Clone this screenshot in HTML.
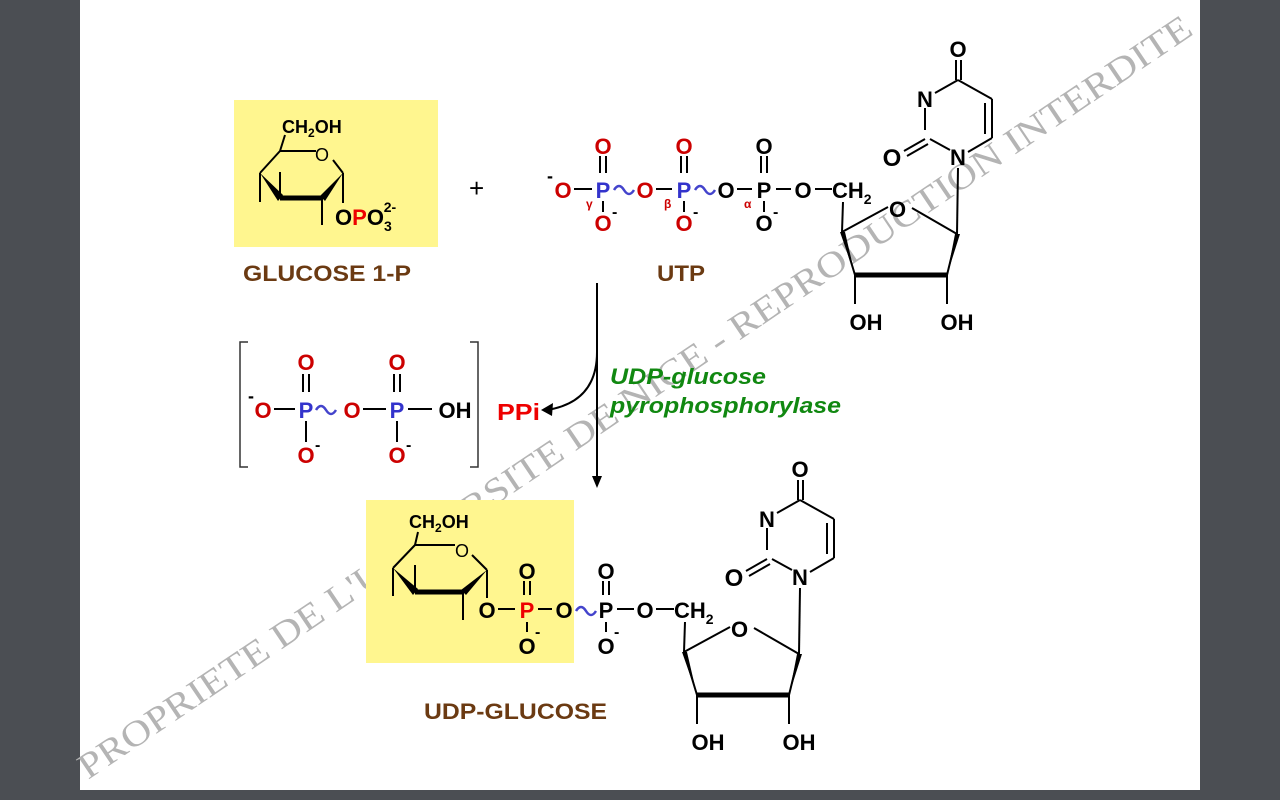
<!DOCTYPE html>
<html><head><meta charset="utf-8"><style>
html,body{margin:0;padding:0;background:#4b4e53;}
svg{display:block}
text{font-family:"Liberation Sans",Arial,sans-serif;font-weight:bold}
text.wm{font-family:"Liberation Serif",serif;font-weight:normal}
text.n{font-weight:normal}
</style></head><body>
<svg width="1280" height="800" viewBox="0 0 1280 800" xmlns="http://www.w3.org/2000/svg">
<rect x="0" y="0" width="1280" height="800" fill="#4b4e53"/>
<rect x="80" y="0" width="1120" height="790" fill="#fff"/>
<!-- watermark -->
<text class="wm" transform="translate(88,780) rotate(-34)" font-size="36" fill="#b4b4b4" textLength="1335" lengthAdjust="spacingAndGlyphs">PROPRIETE DE L'UNIVERSITE DE NICE - REPRODUCTION INTERDITE</text>

<rect x="234" y="100" width="204" height="147" fill="#fff68f"/>
<rect x="366" y="500" width="208" height="163" fill="#fff68f"/>

<!-- Glucose 1-P ring -->
<g stroke="#000" stroke-width="2" fill="none">
<line x1="285" y1="135" x2="280" y2="151"/>
<line x1="280" y1="151" x2="316" y2="151"/>
<line x1="333" y1="160" x2="343" y2="173"/>
<line x1="280" y1="151" x2="260" y2="173"/>
<line x1="260" y1="173" x2="260" y2="202"/>
<line x1="280" y1="198" x2="280" y2="172"/>
<line x1="322" y1="198" x2="322" y2="225"/>
<line x1="343" y1="173" x2="343" y2="203"/>
<line x1="280" y1="198" x2="322" y2="198" stroke-width="5"/>
</g>
<polygon points="260,173 283,195 278,201" fill="#000"/>
<polygon points="343,173 320,196 325,201" fill="#000"/>
<text x="282" y="133" font-size="18">CH<tspan font-size="12" dy="4">2</tspan><tspan dy="-4">OH</tspan></text>
<text x="315" y="161" font-size="18" class="n">O</text>
<text x="335" y="225" font-size="22">O<tspan fill="#e00">P</tspan>O<tspan font-size="14" dy="6">3</tspan><tspan font-size="14" dy="-19" dx="-8">2-</tspan></text>

<text x="469" y="197" font-size="26" class="n">+</text>

<!-- UTP phosphates -->
<g font-size="22" text-anchor="middle">
<text x="563" y="198" fill="#c00">O</text><text x="550" y="182" fill="#000" font-size="18">-</text>
<text x="603" y="198" fill="#33c">P</text>
<text x="645" y="198" fill="#c00">O</text>
<text x="684" y="198" fill="#33c">P</text>
<text x="726" y="198" fill="#000">O</text>
<text x="764" y="198" fill="#000">P</text>
<text x="803" y="198" fill="#000">O</text>
<text x="603" y="154" fill="#c00">O</text>
<text x="684" y="154" fill="#c00">O</text>
<text x="764" y="154" fill="#000">O</text>
<text x="603" y="231" fill="#c00">O</text>
<text x="684" y="231" fill="#c00">O</text>
<text x="764" y="231" fill="#000">O</text>
</g>
<text x="612" y="217" font-size="16">-</text><text x="693" y="217" font-size="16">-</text><text x="773" y="217" font-size="16">-</text>
<g font-size="12" fill="#c00"><text x="586" y="208">γ</text><text x="664" y="208">β</text><text x="744" y="208">α</text></g>
<g stroke="#000" stroke-width="2" fill="none">
<line x1="574" y1="189" x2="592" y2="189"/><line x1="656" y1="189" x2="672" y2="189"/>
<line x1="737" y1="189" x2="752" y2="189"/><line x1="776" y1="189" x2="791" y2="189"/>
<line x1="815" y1="189" x2="832" y2="189"/>
<line x1="600" y1="156" x2="600" y2="173"/><line x1="606" y1="156" x2="606" y2="173"/>
<line x1="681" y1="156" x2="681" y2="173"/><line x1="687" y1="156" x2="687" y2="173"/>
<line x1="761" y1="156" x2="761" y2="173"/><line x1="767" y1="156" x2="767" y2="173"/>
<line x1="603" y1="201" x2="603" y2="212"/><line x1="684" y1="201" x2="684" y2="212"/><line x1="764" y1="201" x2="764" y2="212"/>
</g>
<g stroke="#44c" stroke-width="2.5" fill="none">
<path d="M614,190 q5,-8 10,0 q5,8 10,0"/><path d="M695,190 q5,-8 10,0 q5,8 10,0"/>
</g>

<!-- Nucleoside (top) -->
<g id="nuc">
<text x="832" y="198" font-size="22">CH<tspan font-size="14" dy="6">2</tspan></text>
<text x="889" y="217" font-size="22">O</text>
<g stroke="#000" stroke-width="2" fill="none">
<line x1="843" y1="202" x2="842" y2="232"/>
<line x1="842" y1="232" x2="888" y2="207"/>
<line x1="912" y1="208" x2="957" y2="234"/>
<line x1="842" y1="232" x2="855" y2="275"/>
<line x1="957" y1="234" x2="947" y2="275"/>
<line x1="855" y1="275" x2="947" y2="275" stroke-width="5"/>
<line x1="855" y1="275" x2="855" y2="304"/>
<line x1="947" y1="275" x2="947" y2="304"/>
<line x1="957" y1="234" x2="958" y2="168"/>
<line x1="950" y1="150" x2="930" y2="139"/>
<line x1="925" y1="130" x2="925" y2="108"/>
<line x1="935" y1="93" x2="958" y2="80"/>
<line x1="958" y1="80" x2="992" y2="99"/>
<line x1="992" y1="99" x2="992" y2="138"/>
<line x1="985" y1="103" x2="985" y2="134"/>
<line x1="992" y1="138" x2="968" y2="152"/>
<line x1="956" y1="80" x2="956" y2="60"/><line x1="961" y1="80" x2="961" y2="60"/>
<line x1="925" y1="139" x2="904" y2="151"/><line x1="928" y1="144" x2="907" y2="156"/>
</g>
<polygon points="855,275 840,232 845,232" fill="#000"/>
<polygon points="947,275 955,234 960,234" fill="#000"/>
<text x="866" y="330" font-size="22" text-anchor="middle">OH</text>
<text x="957" y="330" font-size="22" text-anchor="middle">OH</text>
<text x="958" y="165" font-size="22" text-anchor="middle">N</text>
<text x="925" y="107" font-size="22" text-anchor="middle">N</text>
<text x="892" y="166" font-size="24" text-anchor="middle">O</text>
<text x="958" y="57" font-size="22" text-anchor="middle">O</text>
</g>
<use href="#nuc" transform="translate(-158,420)"/>

<text x="243" y="281" font-size="22" fill="#6b3a12" textLength="168" lengthAdjust="spacingAndGlyphs">GLUCOSE 1-P</text>
<text x="657" y="281" font-size="22" fill="#6b3a12" textLength="48" lengthAdjust="spacingAndGlyphs">UTP</text>
<text x="424" y="719" font-size="22" fill="#6b3a12" textLength="183" lengthAdjust="spacingAndGlyphs">UDP-GLUCOSE</text>

<!-- arrows -->
<line x1="597" y1="283" x2="597" y2="478" stroke="#000" stroke-width="2"/>
<polygon points="592,476 602,476 597,488" fill="#000"/>
<path d="M597,352 q0,50 -50,58" stroke="#000" stroke-width="2" fill="none"/>
<polygon points="541,410 553,403 552,416" fill="#000"/>
<text x="497" y="420" font-size="23" fill="#e00" textLength="43" lengthAdjust="spacingAndGlyphs">PPi</text>
<text x="610" y="384" font-size="22" fill="#118811" font-style="italic" textLength="156" lengthAdjust="spacingAndGlyphs">UDP-glucose</text>
<text x="610" y="413" font-size="22" fill="#118811" font-style="italic" textLength="231" lengthAdjust="spacingAndGlyphs">pyrophosphorylase</text>

<!-- PPi structure -->
<path d="M248,342 h-8 v125 h8 M470,342 h8 v125 h-8" stroke="#333" stroke-width="1.5" fill="none"/>
<g font-size="22" text-anchor="middle">
<text x="263" y="418" fill="#c00">O</text><text x="251" y="402" font-size="18">-</text>
<text x="306" y="418" fill="#33c">P</text>
<text x="352" y="418" fill="#c00">O</text>
<text x="397" y="418" fill="#33c">P</text>
<text x="455" y="418">OH</text>
<text x="306" y="370" fill="#c00">O</text>
<text x="397" y="370" fill="#c00">O</text>
<text x="306" y="463" fill="#c00">O</text>
<text x="397" y="463" fill="#c00">O</text>
</g>
<text x="315" y="450" font-size="16">-</text><text x="406" y="450" font-size="16">-</text>
<g stroke="#000" stroke-width="2">
<line x1="274" y1="409" x2="295" y2="409"/><line x1="363" y1="409" x2="386" y2="409"/><line x1="408" y1="409" x2="432" y2="409"/>
<line x1="303" y1="374" x2="303" y2="392"/><line x1="309" y1="374" x2="309" y2="392"/>
<line x1="394" y1="374" x2="394" y2="392"/><line x1="400" y1="374" x2="400" y2="392"/>
<line x1="306" y1="421" x2="306" y2="442"/><line x1="397" y1="421" x2="397" y2="442"/>
</g>
<path d="M316,410 q5,-8 10,0 q5,8 10,0" stroke="#44c" stroke-width="2.5" fill="none"/>

<!-- UDP-glucose sugar -->
<g stroke="#000" stroke-width="2" fill="none">
<line x1="418" y1="532" x2="415" y2="545"/>
<line x1="415" y1="545" x2="455" y2="545"/>
<line x1="472" y1="555" x2="487" y2="570"/>
<line x1="415" y1="545" x2="393" y2="568"/>
<line x1="393" y1="568" x2="393" y2="596"/>
<line x1="415" y1="592" x2="415" y2="565"/>
<line x1="463" y1="592" x2="463" y2="620"/>
<line x1="487" y1="570" x2="487" y2="598"/>
<line x1="415" y1="592" x2="463" y2="592" stroke-width="5"/>
<line x1="498" y1="609" x2="515" y2="609"/><line x1="538" y1="609" x2="552" y2="609"/>
<line x1="617" y1="609" x2="634" y2="609"/><line x1="656" y1="609" x2="674" y2="609"/>
<line x1="524" y1="581" x2="524" y2="595"/><line x1="530" y1="581" x2="530" y2="595"/>
<line x1="603" y1="581" x2="603" y2="595"/><line x1="609" y1="581" x2="609" y2="595"/>
<line x1="527" y1="622" x2="527" y2="632"/><line x1="606" y1="622" x2="606" y2="632"/>
</g>
<polygon points="393,568 418,589 413,595" fill="#000"/>
<polygon points="487,570 461,590 466,595" fill="#000"/>
<path d="M576,611 q5,-8 10,0 q5,8 10,0" stroke="#44c" stroke-width="2.5" fill="none"/>
<text x="409" y="528" font-size="18">CH<tspan font-size="12" dy="4">2</tspan><tspan dy="-4">OH</tspan></text>
<text x="455" y="557" font-size="18" class="n">O</text>
<g font-size="22" text-anchor="middle">
<text x="487" y="618">O</text><text x="527" y="618" fill="#e00">P</text><text x="564" y="618">O</text>
<text x="606" y="618">P</text><text x="645" y="618">O</text>
<text x="527" y="579">O</text><text x="606" y="579">O</text>
<text x="527" y="654">O</text><text x="606" y="654">O</text>
</g>
<text x="535" y="637" font-size="16">-</text><text x="614" y="637" font-size="16">-</text>
</svg>
</body></html>
